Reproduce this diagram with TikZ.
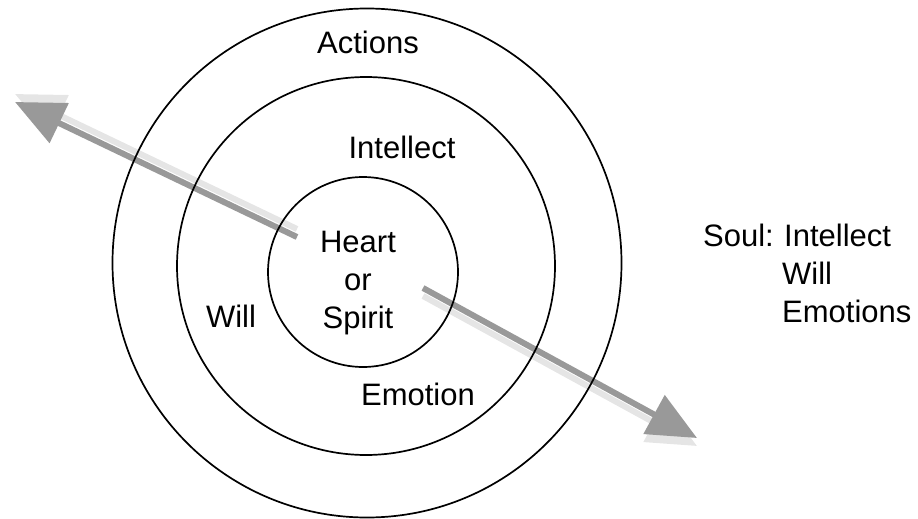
\documentclass[tikz,border=0pt]{standalone}
\usepackage{fontspec}
\setmainfont{Liberation Sans}
\usetikzlibrary{arrows.meta}
\definecolor{arrowdark}{gray}{0.6}
\definecolor{arrowlight}{gray}{0.9}
\begin{document}
\begin{tikzpicture}[x=1pt,y=-1pt,
    ring/.style={shape=circle,draw=black,line width=1.7pt,inner sep=0pt},
    word/.style={font=\fontsize{31}{38}\selectfont,inner sep=0pt},
    pointer/.style={line width=6pt,-{Triangle[length=49pt,width=43pt]}}]
    \useasboundingbox (0,0) rectangle (918,519);

    % arrows through the rings
    \coordinate (a1s) at (297,237);
    \coordinate (a1e) at (15,102);
    \coordinate (a2s) at (423,288);
    \coordinate (a2e) at (697,438);
    \draw[pointer,arrowlight] ([yshift=8pt]a1s) -- ([yshift=8pt]a1e);
    \draw[pointer,arrowdark] (a1s) -- (a1e);
    \draw[pointer,arrowlight] ([yshift=-8pt]a2s) -- ([yshift=-8pt]a2e);
    \draw[pointer,arrowdark] (a2s) -- (a2e);

    % rings
    \node[ring,minimum size=509pt] (outer) at (367,263) {};
    \node[ring,minimum size=378pt] (middle) at (366,266) {};
    \node[ring,minimum size=190pt] (inner) at (363,272) {};

    % labels
    \node[word,anchor=base] (actions) at (368,54) {Actions};
    \node[word,anchor=base] (intellect) at (402,158) {Intellect};
    \node[word,anchor=base] (will) at (231,327) {Will};
    \node[word,anchor=base] (emotion) at (418,405) {Emotion};
    \node[word,align=center] (heart) at (358,283) {Heart\\or\\Spirit};

    \node[word,anchor=base west] (soul) at (703,246) {Soul:};
    \node[word,anchor=base west] (s1) at (784,246) {Intellect};
    \node[word,anchor=base west] (s2) at (782,284) {Will};
    \node[word,anchor=base west] (s3) at (782,322) {Emotions};
\end{tikzpicture}
\end{document}
